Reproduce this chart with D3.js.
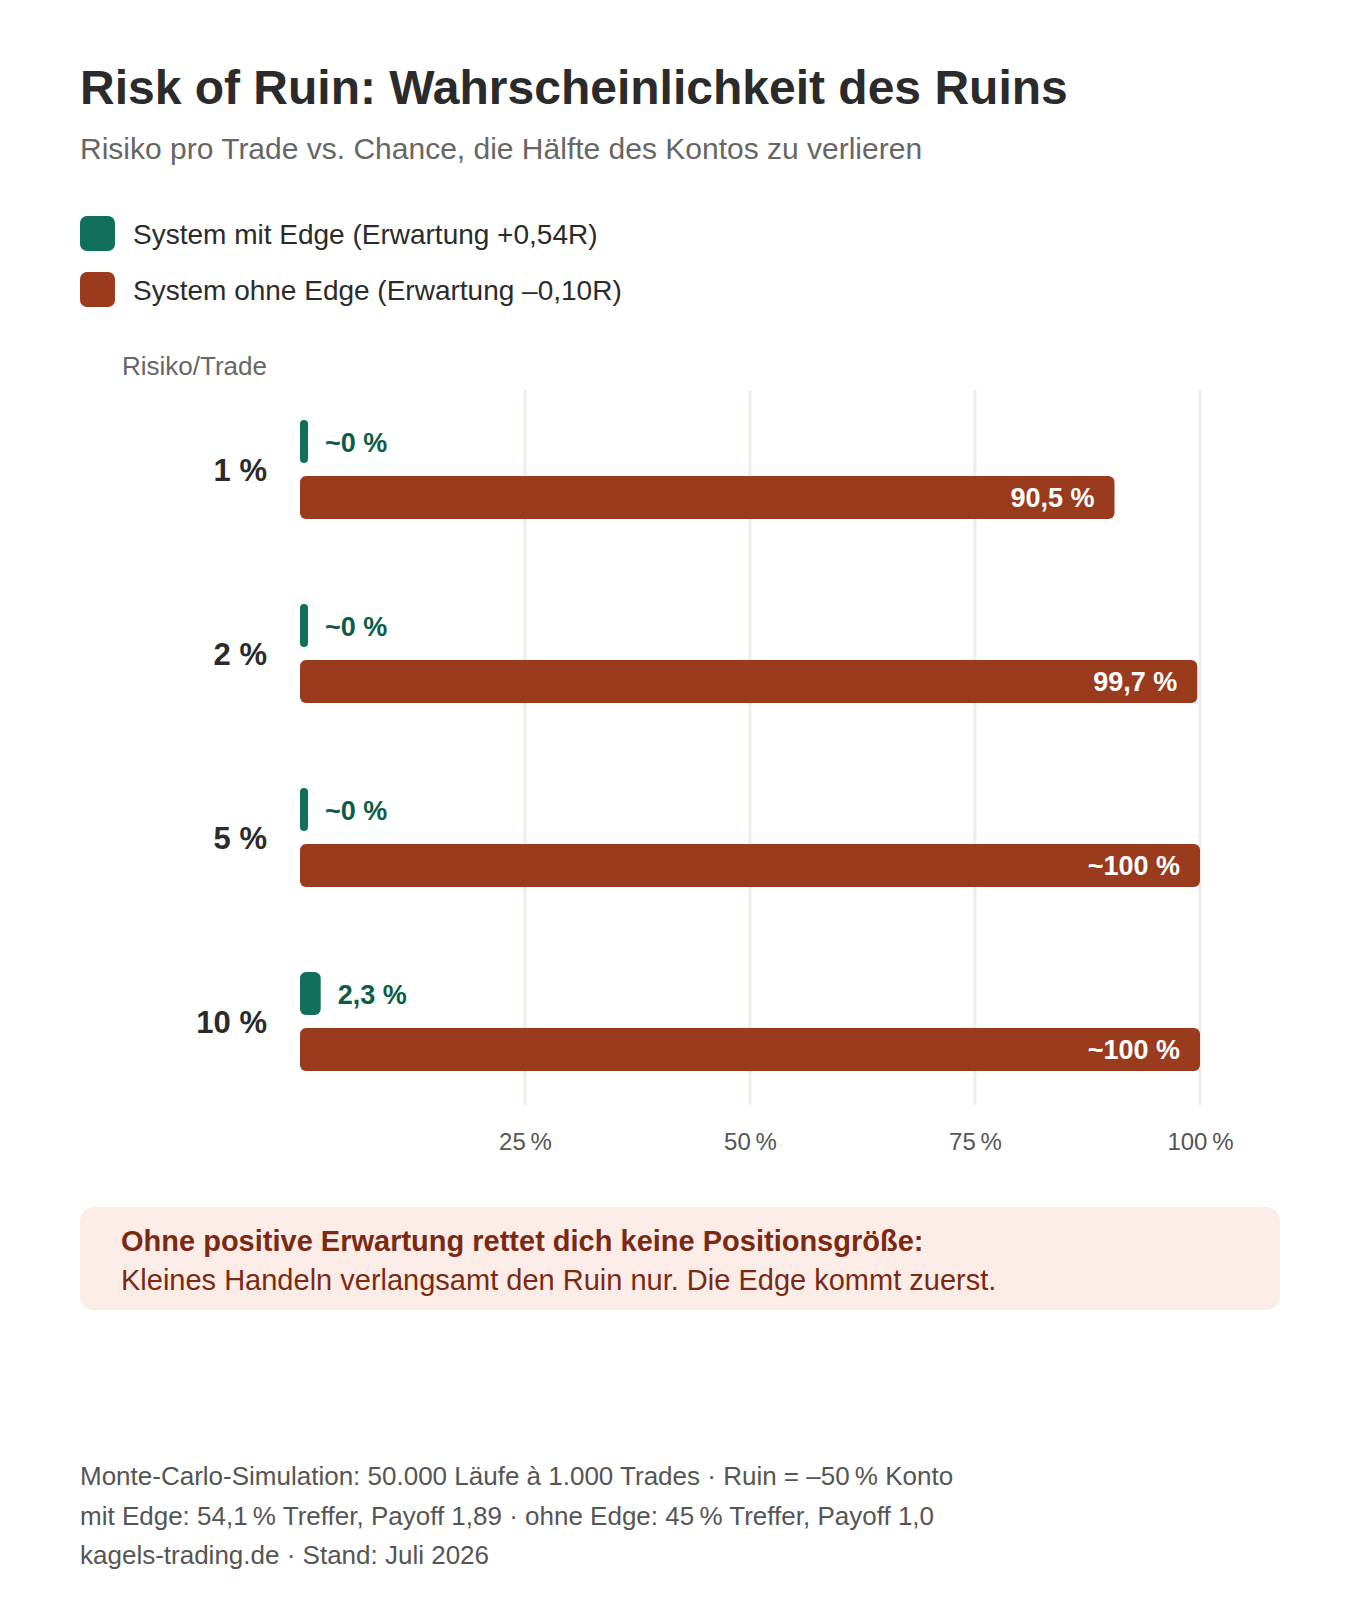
<!DOCTYPE html>
<html>
<head>
<meta charset="utf-8">
<script src="https://cdn.jsdelivr.net/npm/d3@7"></script>
<style>
  body { margin: 0; background: #fff; }
  svg text { font-family: "Liberation Sans", Arial, Helvetica, sans-serif; }
</style>
</head>
<body>
<svg id="chart" width="1360" height="1600"></svg>
<script>
// data
var categories = ["1 %", "2 %", "5 %", "10 %"];
var seriesNames = ["System mit Edge (Erwartung +0,54R)", "System ohne Edge (Erwartung \u20130,10R)"];
var edgeValues = [0, 0, 0, 2.3];
var noEdgeValues = [90.5, 99.7, 100, 100];
var edgeLabels = ["~0 %", "~0 %", "~0 %", "2,3 %"];
var noEdgeLabels = ["90,5 %", "99,7 %", "~100 %", "~100 %"];
var tickValues = [25, 50, 75, 100];
var footerLines = [
  "Monte-Carlo-Simulation: 50.000 L\u00e4ufe \u00e0 1.000 Trades \u00b7 Ruin = \u201350\u202f% Konto",
  "mit Edge: 54,1\u202f% Treffer, Payoff 1,89 \u00b7 ohne Edge: 45\u202f% Treffer, Payoff 1,0",
  "kagels-trading.de \u00b7 Stand: Juli 2026"
];

(function RiskOfRuin() {
  var svg = d3.select("#chart");
  var green = "#10705a", red = "#9a3b1e", greenText = "#0d5c48";
  var color = d3.scaleOrdinal().domain(["edge", "noedge"]).range([green, red]);

  var rows = categories.map(function (c, i) {
    return {
      cat: c,
      bars: [
        {key: "edge", value: edgeValues[i], label: edgeLabels[i]},
        {key: "noedge", value: noEdgeValues[i], label: noEdgeLabels[i]}
      ]
    };
  });

  // header
  svg.append("text").attr("x", 80).attr("y", 104)
    .attr("font-size", 48).attr("font-weight", "bold").attr("fill", "#2b2b2b")
    .text("Risk of Ruin: Wahrscheinlichkeit des Ruins");
  svg.append("text").attr("x", 80).attr("y", 159)
    .attr("font-size", 30).attr("fill", "#666")
    .text("Risiko pro Trade vs. Chance, die H\u00e4lfte des Kontos zu verlieren");

  // legend
  var legend = svg.append("g").selectAll("g")
    .data(["edge", "noedge"])
    .enter().append("g")
      .attr("transform", function (d, i) { return "translate(80," + (216 + i * 56) + ")"; });
  legend.append("rect")
    .attr("width", 35).attr("height", 35).attr("rx", 7).attr("ry", 7)
    .attr("fill", function (d) { return color(d); });
  legend.append("text")
    .attr("x", 53).attr("y", 28)
    .attr("font-size", 28).attr("fill", "#2b2b2b")
    .text(function (d, i) { return seriesNames[i]; });

  svg.append("text").attr("x", 122).attr("y", 375)
    .attr("font-size", 26).attr("fill", "#666")
    .text("Risiko/Trade");

  // scales
  var x = d3.scaleLinear().domain([0, 100]).range([300, 1200]);
  var y = d3.scaleBand().domain(categories).range([377.5, 1113.5]);
  var yInner = d3.scaleBand().domain(["edge", "noedge"])
    .range([42.5, 141.5]).paddingInner(0.232);

  // grid
  svg.append("g").selectAll("line")
    .data(tickValues)
    .enter().append("line")
      .attr("x1", x).attr("x2", x)
      .attr("y1", 390).attr("y2", 1105)
      .attr("stroke", "#efede8").attr("stroke-width", 3);

  // x axis labels
  var xAxis = svg.append("g")
    .attr("transform", "translate(0,1105)")
    .call(d3.axisBottom(x).tickValues(tickValues)
      .tickSize(0).tickPadding(28)
      .tickFormat(function (d) { return d + "\u202f%"; }));
  xAxis.select(".domain").remove();
  xAxis.selectAll("text")
    .attr("font-size", 24).attr("fill", "#555")
    .attr("font-family", "Liberation Sans, Arial, sans-serif");

  var groups = svg.append("g").selectAll(".row")
    .data(rows)
    .enter().append("g")
      .attr("class", "row")
      .attr("transform", function (d) { return "translate(0," + y(d.cat) + ")"; });

  groups.append("text")
    .attr("x", 267)
    .attr("y", y.bandwidth() / 2 + 11)
    .attr("text-anchor", "end")
    .attr("font-size", 31).attr("font-weight", "bold").attr("fill", "#2b2b2b")
    .text(function (d) { return d.cat; });

  function barW(d) { return Math.max(8, x(d.value) - x(0)); }

  var bars = groups.selectAll(".bar")
    .data(function (d) { return d.bars; })
    .enter().append("g")
      .attr("class", "bar")
      .attr("transform", function (d) { return "translate(" + x(0) + "," + yInner(d.key) + ")"; });

  bars.append("rect")
    .attr("width", barW)
    .attr("height", yInner.bandwidth())
    .attr("rx", function (d) { return barW(d) < 12 ? 4 : 6; })
    .attr("ry", function (d) { return barW(d) < 12 ? 4 : 6; })
    .attr("fill", function (d) { return color(d.key); });

  bars.append("text")
    .attr("x", function (d) { return d.key === "edge" ? barW(d) + 17 : barW(d) - 20; })
    .attr("y", yInner.bandwidth() / 2 + 10)
    .attr("text-anchor", function (d) { return d.key === "edge" ? "start" : "end"; })
    .attr("font-size", 27).attr("font-weight", "bold")
    .attr("fill", function (d) { return d.key === "edge" ? greenText : "#fff"; })
    .text(function (d) { return d.label; });

  // callout
  var note = svg.append("g").attr("transform", "translate(80,1207)");
  note.append("rect").attr("width", 1200).attr("height", 103).attr("rx", 14)
    .attr("fill", "#fbece7");
  note.append("text").attr("x", 41).attr("y", 44)
    .attr("font-size", 29).attr("font-weight", "bold").attr("fill", "#7a2a12")
    .text("Ohne positive Erwartung rettet dich keine Positionsgr\u00f6\u00dfe:");
  note.append("text").attr("x", 41).attr("y", 83)
    .attr("font-size", 29).attr("fill", "#7a2a12")
    .text("Kleines Handeln verlangsamt den Ruin nur. Die Edge kommt zuerst.");

  // footer
  svg.append("g").selectAll("text")
    .data(footerLines)
    .enter().append("text")
      .attr("x", 80)
      .attr("y", function (d, i) { return 1485 + i * 39.5; })
      .attr("font-size", 26).attr("fill", "#555")
      .text(function (d) { return d; });
})();
</script>
</body>
</html>
